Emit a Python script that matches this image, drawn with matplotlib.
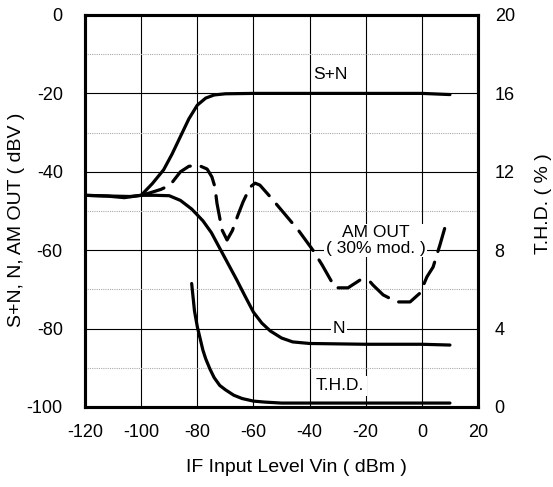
import numpy as np
import matplotlib
matplotlib.use("Agg")
from matplotlib import pyplot as plt

plt.rcParams['font.family'] = ['Liberation Sans', 'DejaVu Sans']
plt.rcParams['axes.unicode_minus'] = False

# S+N (dBV)
sn_x = [-120, -110, -104, -100, -96, -92, -89, -86, -83, -80, -77, -74, -70, -60, -40, -20, 0, 10]
sn_y = [-46, -46.2, -46.3, -46, -43, -39.5, -35.5, -31, -26.5, -23, -21.2, -20.4, -20.1, -20, -20, -20, -20, -20.3]

# N (dBV)
n_x = [-120, -112, -106, -100, -95, -90, -86, -82, -78, -75, -72, -69, -66, -63, -60, -57, -54, -50, -46, -40, -20, 0, 10]
n_y = [-46, -46.2, -46.6, -46, -46, -46.1, -47.3, -49.5, -52.5, -55.5, -59.5, -63.5, -67.5, -71.7, -75.8, -78.6, -80.6, -82.4, -83.4, -83.8, -84, -84, -84.2]

# AM OUT, 30% mod. (dBV)
am_x = [-100, -97, -93, -89.7, -86, -83, -79.7, -76.5, -74.8, -73.7, -73, -71.2, -69.4, -67.5, -65.5, -63.7, -61.2,
        -59.4, -57.7, -54, -48, -44.1, -38.8, -35.5, -30.9, -26.3, -22, -18.5, -17.4, -13.8, -8.9, -4.2, -0.6, 1.8, 4, 6.5, 8.5]
am_y = [-46, -45.4, -44.5, -43.4, -40, -38.6, -38.3, -39.3, -41.3, -43.9, -48, -54.8, -57.4, -55, -51, -47.7, -43.9,
        -42.9, -43.4, -46.4, -51.5, -54.8, -60, -63.8, -69.6, -69.6, -67.6, -68, -68.9, -71.4, -73.2, -73.2, -70.9, -66.8, -64.3, -58.5, -53.5]

# T.H.D. (%)
thd_x = [-82, -81, -80, -78, -77, -75.5, -74, -72, -70, -67, -64, -60, -56, -50, -40, -20, 0, 10]
thd_y = [6.3, 4.9, 4.1, 2.9, 2.46, 1.94, 1.5, 1.1, 0.88, 0.6, 0.43, 0.3, 0.25, 0.2, 0.2, 0.2, 0.2, 0.2]

x_ticks = [-120, -100, -80, -60, -40, -20, 0, 20]
left_ticks = [-100, -80, -60, -40, -20, 0]
right_ticks = [0, 4, 8, 12, 16, 20]

fig = plt.figure(figsize=(5.53, 4.87), dpi=100)
ax = fig.add_axes([0.1537, 0.1643, 0.7107, 0.8049])
ax2 = ax.twinx()

ax.set_xlim(-120, 20)
ax.set_ylim(-100, 0)
ax2.set_ylim(0, 20)

# grid
for v in x_ticks[1:-1]:
    ax.axvline(v, color='black', lw=0.8, zorder=1)
for v in left_ticks[1:-1]:
    ax.axhline(v, color='black', lw=0.8, zorder=1)
for v in np.arange(-90, 0, 20):
    ax.axhline(v, color='#aaaaaa', lw=0.8, ls=(0, (1, 1)), zorder=1)

lw = 2.3
ax.plot(sn_x, sn_y, color='black', lw=lw, zorder=3, solid_capstyle='round')
ax.plot(n_x, n_y, color='black', lw=lw, zorder=3, solid_capstyle='round')
ax.plot(am_x, am_y, color='black', lw=lw, zorder=3, ls=(0, (7.5, 3.5)), dash_capstyle='round')
ax2.plot(thd_x, thd_y, color='black', lw=lw, zorder=3, solid_capstyle='round')

fs_note = 12.5
ax.text(-32.7, -15.3, 'S+N', fontsize=fs_note, ha='center', va='center')
ax.text(-29.5, -80, 'N', fontsize=fs_note, ha='center', va='center',
        bbox=dict(facecolor='white', edgecolor='none', pad=1.5), zorder=4)
ax.text(-29.2, -94.6, 'T.H.D.', fontsize=fs_note, ha='center', va='center',
        bbox=dict(facecolor='white', edgecolor='none', pad=2), zorder=4)
ax.text(-16.5, -57.5, 'AM OUT\n( 30% mod. )', fontsize=fs_note, ha='center', va='center',
        linespacing=1.05, bbox=dict(facecolor='white', edgecolor='none', pad=1), zorder=4)

fs_tick = 13
fs_lab = 14
ax.set_xticks(x_ticks)
ax.set_yticks(left_ticks)
ax2.set_yticks(right_ticks)
ax.tick_params(axis='both', length=0, labelsize=fs_tick)
ax.tick_params(axis='x', pad=12)
ax.tick_params(axis='y', pad=16)
ax2.tick_params(axis='y', length=0, labelsize=fs_tick, pad=12)

for a in (ax, ax2):
    for s in a.spines.values():
        s.set_linewidth(2.2)

# x label sits a little right of the axes centre in the original
fig.text(296 / 553, 1 - 467 / 487, 'IF Input Level Vin ( dBm )', fontsize=fs_lab,
         ha='center', va='center')
ax.set_ylabel('S+N, N, AM OUT ( dBV )', fontsize=fs_lab)
ax.yaxis.set_label_coords(-0.152, 0.477)
ax2.set_ylabel('T.H.D. ( % )', fontsize=fs_lab)
ax2.yaxis.set_label_coords(1.145, 0.52)

fig.savefig('out.png', dpi=100)
